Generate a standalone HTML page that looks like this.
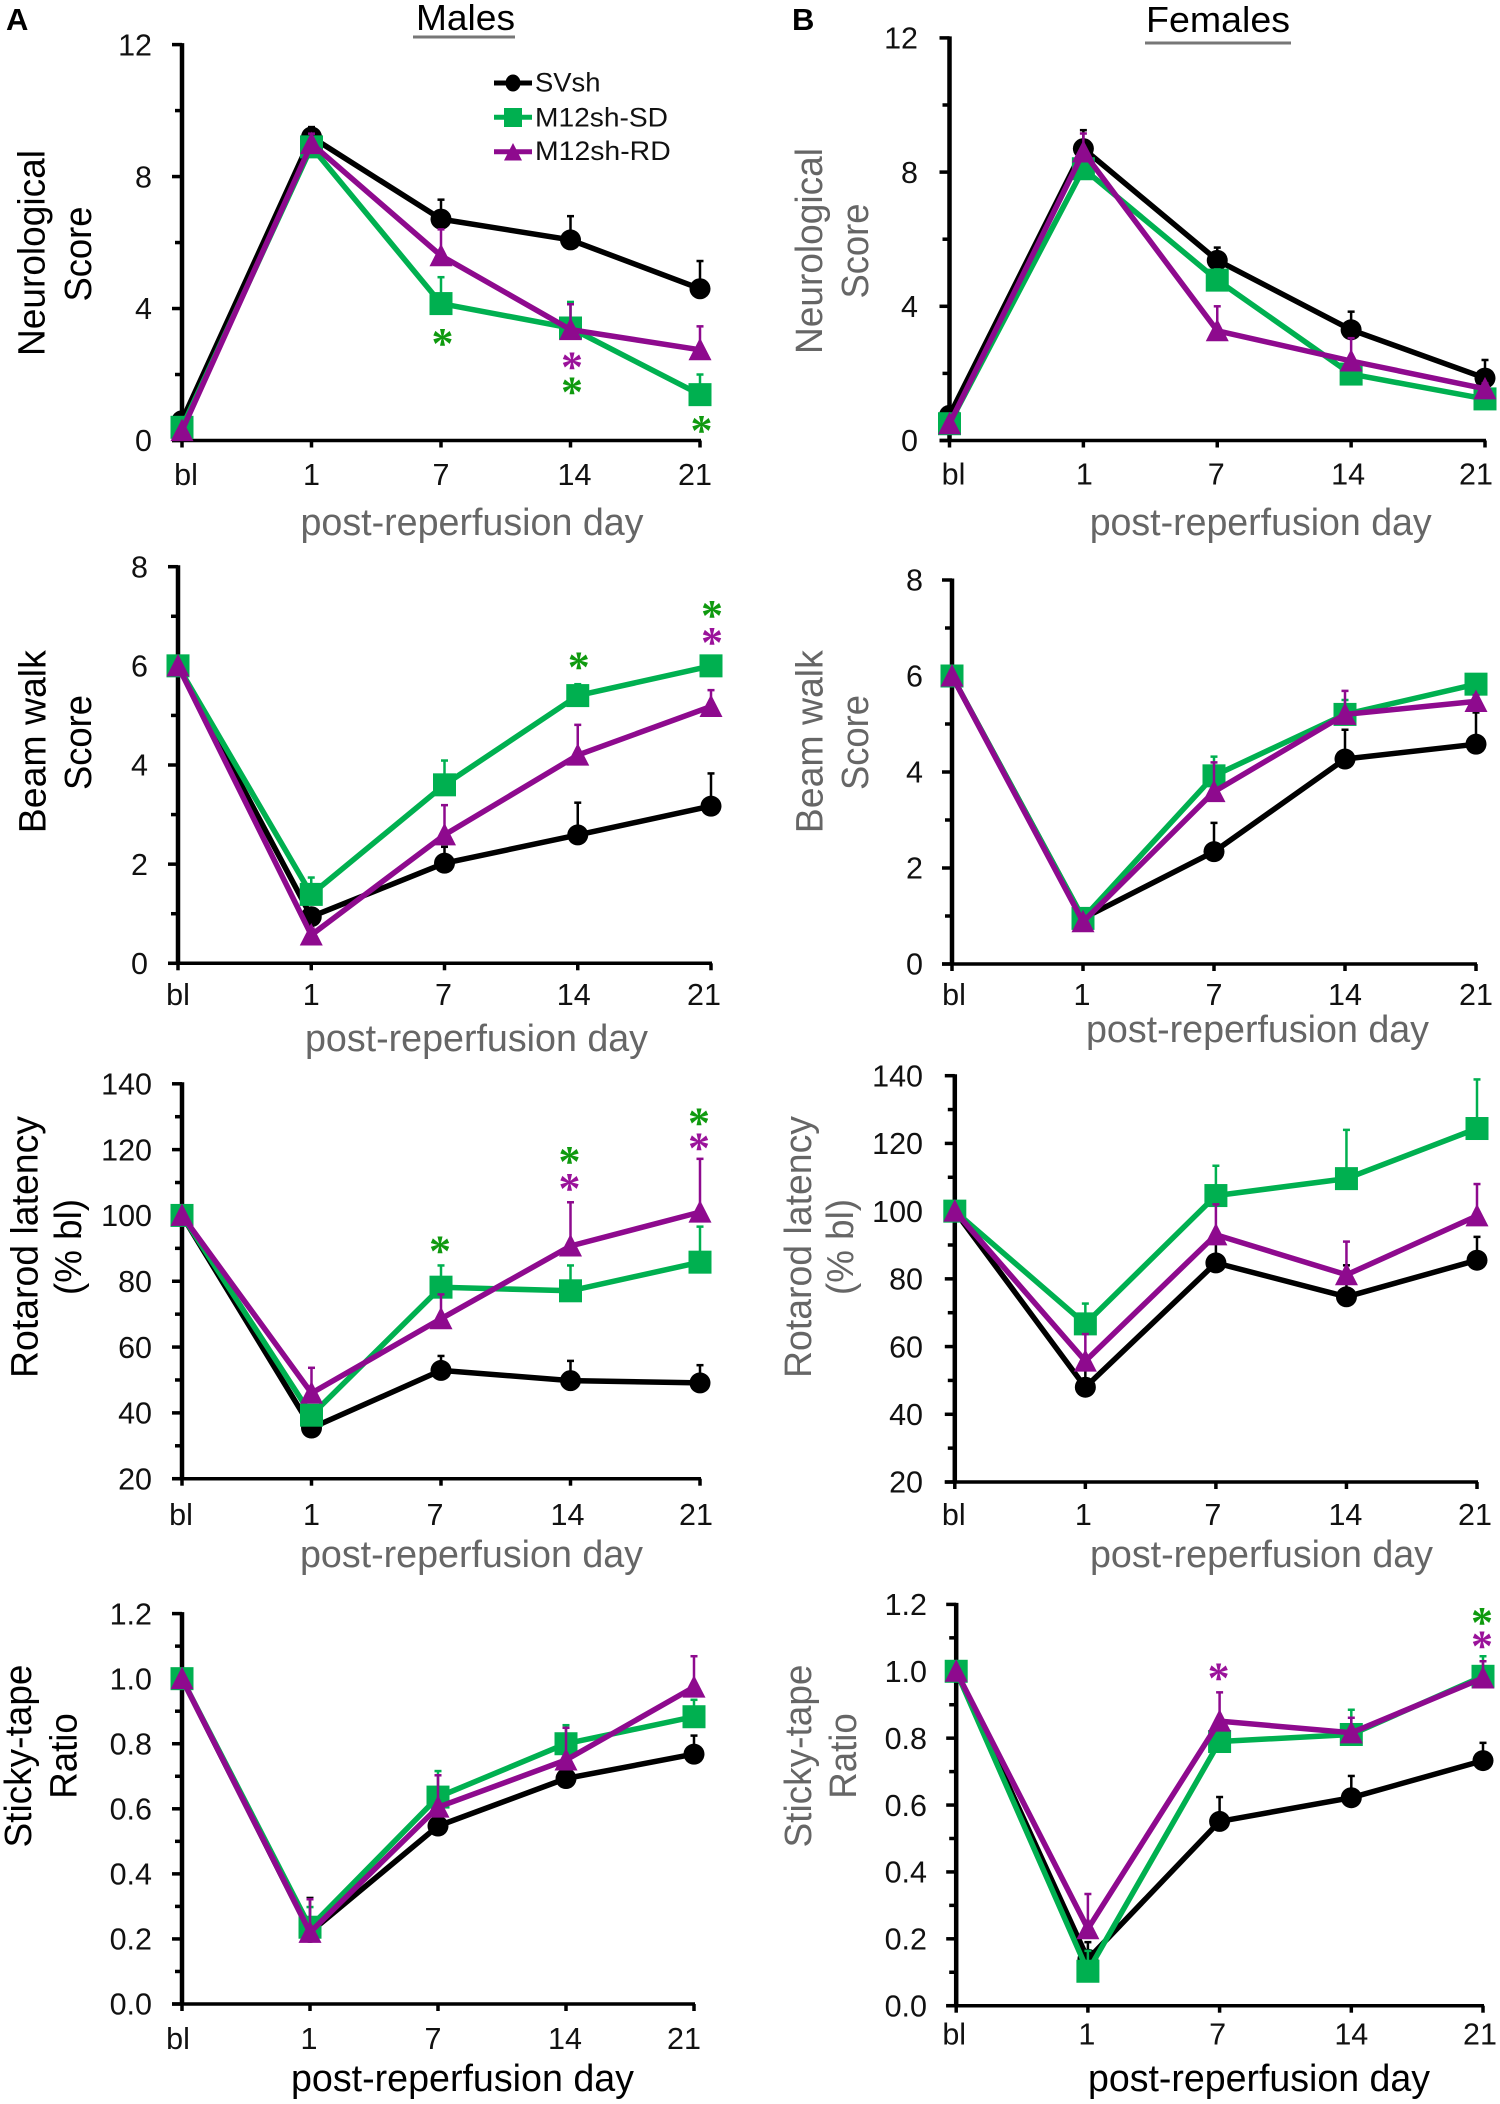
<!DOCTYPE html>
<html lang="en">
<head>
<meta charset="utf-8">
<title>Neurological and behavioural recovery, males and females</title>
<style>
html,body{margin:0;padding:0;background:#fff;}
svg{display:block;}
text{font-family:"Liberation Sans",Arial,sans-serif;}
.t{font-size:38px;fill:#000;}
.g{font-size:38px;fill:#666;}
.x{font-size:37.7px;fill:#666;}
.xk{font-size:37.7px;fill:#000;}
.lg{font-size:27px;fill:#111;}
</style>
</head>
<body>
<svg id="fig" xmlns="http://www.w3.org/2000/svg" width="1500" height="2104" viewBox="0 0 1500 2104">
  <rect width="1500" height="2104" fill="#fff"/>

  <text x="6" y="30" font-size="31" font-weight="bold">A</text>
  <text x="792" y="30" font-size="31" font-weight="bold">B</text>

  <text x="416" y="30" font-size="36" textLength="99" lengthAdjust="spacingAndGlyphs">Males</text>
  <rect x="413" y="35.5" width="102" height="3" fill="#777"/>
  <text x="1146" y="32" font-size="36.5" textLength="144" lengthAdjust="spacingAndGlyphs">Females</text>
  <rect x="1145" y="41.5" width="146" height="3" fill="#777"/>

  <!-- Row 1 -->
  <g id="a1">
    <text class="t" transform="translate(44.5,253) rotate(-90)" text-anchor="middle" textLength="206" lengthAdjust="spacingAndGlyphs">Neurological</text>
    <text class="t" transform="translate(91,254) rotate(-90)" text-anchor="middle" textLength="95" lengthAdjust="spacingAndGlyphs">Score</text>
    <text class="x" x="300.5" y="535" textLength="343" lengthAdjust="spacingAndGlyphs">post-reperfusion day</text>
  </g>
  <g id="b1">
    <text class="g" transform="translate(822,251) rotate(-90)" text-anchor="middle" textLength="206" lengthAdjust="spacingAndGlyphs">Neurological</text>
    <text class="g" transform="translate(868,251) rotate(-90)" text-anchor="middle" textLength="95" lengthAdjust="spacingAndGlyphs">Score</text>
    <text class="x" x="1089.7" y="535" textLength="342" lengthAdjust="spacingAndGlyphs">post-reperfusion day</text>
  </g>

  <!-- Row 2 -->
  <g id="a2">
    <text class="t" transform="translate(45.5,741.7) rotate(-90)" text-anchor="middle" textLength="183" lengthAdjust="spacingAndGlyphs">Beam walk</text>
    <text class="t" transform="translate(91,742.5) rotate(-90)" text-anchor="middle" textLength="95" lengthAdjust="spacingAndGlyphs">Score</text>
    <text class="x" x="305" y="1051" textLength="343" lengthAdjust="spacingAndGlyphs">post-reperfusion day</text>
  </g>
  <g id="b2">
    <text class="g" transform="translate(822.7,741.7) rotate(-90)" text-anchor="middle" textLength="183" lengthAdjust="spacingAndGlyphs">Beam walk</text>
    <text class="g" transform="translate(868,742.5) rotate(-90)" text-anchor="middle" textLength="95" lengthAdjust="spacingAndGlyphs">Score</text>
    <text class="x" x="1086" y="1042" textLength="343" lengthAdjust="spacingAndGlyphs">post-reperfusion day</text>
  </g>

  <!-- Row 3 -->
  <g id="a3">
    <text class="t" transform="translate(37.3,1247) rotate(-90)" text-anchor="middle" textLength="262" lengthAdjust="spacingAndGlyphs">Rotarod latency</text>
    <text class="t" transform="translate(81,1247) rotate(-90)" text-anchor="middle" textLength="96" lengthAdjust="spacingAndGlyphs">(% bl)</text>
    <text class="x" x="300" y="1567" textLength="343" lengthAdjust="spacingAndGlyphs">post-reperfusion day</text>
  </g>
  <g id="b3">
    <text class="g" transform="translate(811,1247) rotate(-90)" text-anchor="middle" textLength="262" lengthAdjust="spacingAndGlyphs">Rotarod latency</text>
    <text class="g" transform="translate(853,1247) rotate(-90)" text-anchor="middle" textLength="96" lengthAdjust="spacingAndGlyphs">(% bl)</text>
    <text class="x" x="1090" y="1567" textLength="343" lengthAdjust="spacingAndGlyphs">post-reperfusion day</text>
  </g>

  <!-- Row 4 -->
  <g id="a4">
    <text class="t" transform="translate(31,1756) rotate(-90)" text-anchor="middle" textLength="183" lengthAdjust="spacingAndGlyphs">Sticky-tape</text>
    <text class="t" transform="translate(76.5,1756) rotate(-90)" text-anchor="middle" textLength="85.5" lengthAdjust="spacingAndGlyphs">Ratio</text>
    <text class="xk" x="291" y="2091" textLength="343" lengthAdjust="spacingAndGlyphs">post-reperfusion day</text>
  </g>
  <g id="b4">
    <text class="g" transform="translate(811,1756) rotate(-90)" text-anchor="middle" textLength="183" lengthAdjust="spacingAndGlyphs">Sticky-tape</text>
    <text class="g" transform="translate(856,1756) rotate(-90)" text-anchor="middle" textLength="85.5" lengthAdjust="spacingAndGlyphs">Ratio</text>
    <text class="xk" x="1088" y="2091" textLength="342" lengthAdjust="spacingAndGlyphs">post-reperfusion day</text>
  </g>

  <!-- Legend -->
  <g id="legend">
    <g>
      <line x1="494" x2="532" y1="83" y2="83" stroke="#000" stroke-width="5"/>
      <ellipse cx="513" cy="83" rx="7.5" ry="8.5" fill="#000"/>
      <text class="lg" x="535" y="91.7" textLength="65.5" lengthAdjust="spacingAndGlyphs">SVsh</text>
    </g>
    <g>
      <line x1="494" x2="532" y1="117.3" y2="117.3" stroke="#00b050" stroke-width="5"/>
      <rect x="504" y="108" width="18" height="19" fill="#00b050"/>
      <text class="lg" x="535" y="126.7" textLength="133" lengthAdjust="spacingAndGlyphs">M12sh-SD</text>
    </g>
    <g>
      <line x1="494" x2="532" y1="151.7" y2="151.7" stroke="#8e0a8e" stroke-width="5"/>
      <polygon points="513,143 504,160.5 522,160.5" fill="#8e0a8e"/>
      <text class="lg" x="535" y="160" textLength="135.7" lengthAdjust="spacingAndGlyphs">M12sh-RD</text>
    </g>
  </g>
</svg>

<script>
// ---------- shared categories ----------
const categories = ['bl', '1', '7', '14', '21'];

// ---------- tick labels ----------
const neuroTicks = ['0', '4', '8', '12'];
const beamTicks = ['0', '2', '4', '6', '8'];
const rotarodTicks = ['20', '40', '60', '80', '100', '120', '140'];
const stickyTicks = ['0.0', '0.2', '0.4', '0.6', '0.8', '1.0', '1.2'];

// ---------- male neurological ----------
const a1Svsh = [0.6, 9.2, 6.71, 6.08, 4.6];
const a1SvshTop = [0.8, 9.5, 7.3, 6.8, 5.44];
const a1Sd = [0.4, 8.9, 4.15, 3.41, 1.39];
const a1SdTop = [0.4, 9.1, 4.95, 4.2, 2.0];
const a1Rd = [0.3, 9.0, 5.6, 3.36, 2.75];
const a1RdTop = [0.3, 9.3, 6.4, 4.13, 3.46];
const a1StarCats = [2, 3, 3, 4];
const a1StarVals = [3.125, 2.42, 1.65, 0.49];
const a1StarKinds = ['sd', 'rd', 'sd', 'sd'];

// ---------- female neurological ----------
const b1Svsh = [0.75, 8.7, 5.37, 3.3, 1.86];
const b1SvshTop = [0.9, 9.25, 5.75, 3.84, 2.4];
const b1Sd = [0.5, 8.1, 4.78, 1.98, 1.24];
const b1SdTop = [0.5, 8.4, 5.1, 2.2, 1.4];
const b1Rd = [0.5, 8.6, 3.27, 2.37, 1.54];
const b1RdTop = [0.5, 9.15, 4.0, 3.05, 1.7];
const b1StarCats = [];
const b1StarVals = [];
const b1StarKinds = [];

// ---------- male beam walk ----------
const a2Svsh = [6, 0.94, 2.02, 2.59, 3.17];
const a2SvshTop = [6, 1.1, 2.35, 3.24, 3.83];
const a2Sd = [6, 1.39, 3.6, 5.4, 6.0];
const a2SdTop = [6, 1.73, 4.09, 5.63, 6.0];
const a2Rd = [6, 0.57, 2.59, 4.2, 5.18];
const a2RdTop = [6, 0.7, 3.19, 4.81, 5.51];
const a2StarCats = [3, 4, 4];
const a2StarVals = [6.1, 7.14, 6.6];
const a2StarKinds = ['sd', 'sd', 'rd'];

// ---------- female beam walk ----------
const b2Svsh = [6, 0.95, 2.34, 4.27, 4.58];
const b2SvshTop = [6, 1.0, 2.94, 4.88, 5.24];
const b2Sd = [6, 0.95, 3.92, 5.2, 5.83];
const b2SdTop = [6, 1.05, 4.32, 5.5, 5.83];
const b2Rd = [6, 0.88, 3.59, 5.2, 5.47];
const b2RdTop = [6, 1.0, 4.2, 5.69, 5.6];
const b2StarCats = [];
const b2StarVals = [];
const b2StarKinds = [];

// ---------- male rotarod ----------
const a3Svsh = [100, 35.4, 52.9, 49.8, 49.1];
const a3SvshTop = [100, 37, 57.3, 55.8, 54.5];
const a3Sd = [100, 39.3, 78.2, 77.1, 85.8];
const a3SdTop = [100, 42, 84.8, 84.8, 96.6];
const a3Rd = [100, 46, 68.6, 90.7, 101];
const a3RdTop = [100, 53.7, 76, 104, 117.2];
const a3StarCats = [2, 3, 3, 4, 4];
const a3StarVals = [91, 118.2, 110, 130, 122.3];
const a3StarKinds = ['sd', 'sd', 'rd', 'sd', 'rd'];

// ---------- female rotarod ----------
const b3Svsh = [100, 48, 84.7, 74.7, 85.5];
const b3SvshTop = [100, 53, 92, 84, 92.4];
const b3Sd = [100, 66.7, 104.6, 109.6, 124.4];
const b3SdTop = [100, 72.7, 113.4, 124, 138.9];
const b3Rd = [100, 55.7, 93, 81.2, 98.6];
const b3RdTop = [100, 63.7, 102, 91, 108];
const b3StarCats = [];
const b3StarVals = [];
const b3StarKinds = [];

// ---------- male sticky tape ----------
const a4Svsh = [1.0, 0.22, 0.547, 0.693, 0.768];
const a4SvshTop = [1.0, 0.326, 0.58, 0.72, 0.825];
const a4Sd = [1.0, 0.236, 0.636, 0.8, 0.883];
const a4SdTop = [1.0, 0.298, 0.716, 0.857, 0.935];
const a4Rd = [1.0, 0.22, 0.605, 0.75, 0.974];
const a4RdTop = [1.0, 0.322, 0.703, 0.849, 1.069];
const a4StarCats = [];
const a4StarVals = [];
const a4StarKinds = [];

// ---------- female sticky tape ----------
const b4Svsh = [1.0, 0.139, 0.551, 0.622, 0.733];
const b4SvshTop = [1.0, 0.19, 0.624, 0.687, 0.786];
const b4Sd = [1.0, 0.103, 0.79, 0.811, 0.985];
const b4SdTop = [1.0, 0.164, 0.83, 0.885, 1.045];
const b4Rd = [1.0, 0.23, 0.851, 0.816, 0.98];
const b4RdTop = [1.0, 0.334, 0.937, 0.861, 1.03];
const b4StarCats = [2, 4, 4];
const b4StarVals = [0.998, 1.165, 1.094];
const b4StarKinds = ['rd', 'sd', 'rd'];

// ---------- panel wiring + frame layout ----------
const panels = [
  { id: 'a1', ticks: neuroTicks, s: [a1Svsh, a1Sd, a1Rd], e: [a1SvshTop, a1SdTop, a1RdTop], sc: a1StarCats, sv: a1StarVals, sk: a1StarKinds,
    frame: { x0: 182, x1: 700, top: 44.6, bottom: 440.5, labelRight: 152, labelBase: 485, dx: [4, 0, 0, 4, -5], star: 1.5 } },
  { id: 'b1', ticks: neuroTicks, s: [b1Svsh, b1Sd, b1Rd], e: [b1SvshTop, b1SdTop, b1RdTop], sc: b1StarCats, sv: b1StarVals, sk: b1StarKinds,
    frame: { x0: 949.5, x1: 1485, top: 37.9, bottom: 440.5, labelRight: 918, labelBase: 484.5, dx: [4, 1, -1, -3, -9], star: 0 } },
  { id: 'a2', ticks: beamTicks, s: [a2Svsh, a2Sd, a2Rd], e: [a2SvshTop, a2SdTop, a2RdTop], sc: a2StarCats, sv: a2StarVals, sk: a2StarKinds,
    frame: { x0: 178, x1: 711, top: 566.7, bottom: 963.3, labelRight: 148, labelBase: 1005, dx: [0, 0, -1, -4, -7], star: 1 } },
  { id: 'b2', ticks: beamTicks, s: [b2Svsh, b2Sd, b2Rd], e: [b2SvshTop, b2SdTop, b2RdTop], sc: b2StarCats, sv: b2StarVals, sk: b2StarKinds,
    frame: { x0: 952, x1: 1476, top: 580, bottom: 964, labelRight: 923, labelBase: 1005, dx: [2, -1, 0, 0, 0], star: 0 } },
  { id: 'a3', ticks: rotarodTicks, s: [a3Svsh, a3Sd, a3Rd], e: [a3SvshTop, a3SdTop, a3RdTop], sc: a3StarCats, sv: a3StarVals, sk: a3StarKinds,
    frame: { x0: 182, x1: 700, top: 1083.8, bottom: 1478.7, labelRight: 152, labelBase: 1525, dx: [-1, 0, -6, -3, -4], star: -1 } },
  { id: 'b3', ticks: rotarodTicks, s: [b3Svsh, b3Sd, b3Rd], e: [b3SvshTop, b3SdTop, b3RdTop], sc: b3StarCats, sv: b3StarVals, sk: b3StarKinds,
    frame: { x0: 954.8, x1: 1477, top: 1075.7, bottom: 1482, labelRight: 923, labelBase: 1525, dx: [-1, -2, -3, -1, -2], star: 0 } },
  { id: 'a4', ticks: stickyTicks, s: [a4Svsh, a4Sd, a4Rd], e: [a4SvshTop, a4SdTop, a4RdTop], sc: a4StarCats, sv: a4StarVals, sk: a4StarKinds,
    frame: { x0: 182, x1: 694, top: 1613.6, bottom: 2004, labelRight: 152, labelBase: 2049, dx: [-4, -1, -5, -1, -10], star: 0 } },
  { id: 'b4', ticks: stickyTicks, s: [b4Svsh, b4Sd, b4Rd], e: [b4SvshTop, b4SdTop, b4RdTop], sc: b4StarCats, sv: b4StarVals, sk: b4StarKinds,
    frame: { x0: 956.2, x1: 1483, top: 1604.4, bottom: 2005.7, labelRight: 927, labelBase: 2044.6, dx: [-2, -1, -2, 0, -3], star: -1 } }
];

const seriesColor = ['#000000', '#00b050', '#8e0a8e'];
const starColor = { sd: '#0f9a0f', rd: '#9a129a' };
const NS = 'http://www.w3.org/2000/svg';

function make(tag, attrs, parent) {
  const node = document.createElementNS(NS, tag);
  Object.keys(attrs).forEach(function (k) { node.setAttribute(k, attrs[k]); });
  parent.appendChild(node);
  return node;
}

panels.forEach(function (p) {
  const root = document.getElementById(p.id);
  const f = p.frame;
  const lo = parseFloat(p.ticks[0]);
  const hi = parseFloat(p.ticks[p.ticks.length - 1]);
  const xScale = function (i) { return f.x0 + i * (f.x1 - f.x0) / (categories.length - 1); };
  const yScale = function (v) { return f.bottom - (v - lo) / (hi - lo) * (f.bottom - f.top); };

  // y axis
  const yAxis = make('line', { x1: f.x0, x2: f.x0, y1: f.top - 1.5, y2: f.bottom + 1.5, stroke: '#000', 'stroke-width': 4.5 }, root);
  
  

  p.ticks.forEach(function (label, i) {
    const v = parseFloat(label);
    const y = yScale(v);
    const tick = make('line', { x1: f.x0 - 10, x2: f.x0, y1: y, y2: y, stroke: '#000', 'stroke-width': 3.5 }, root);
    
    

    const text = make('text', { x: f.labelRight, y: y + 10.7, 'text-anchor': 'end', 'font-size': 30.5, fill: '#111' }, root);
    
    
    text.textContent = label;

    if (i < p.ticks.length - 1) {
      const mid = yScale((v + parseFloat(p.ticks[i + 1])) / 2);
      const minor = make('line', { x1: f.x0 - 7, x2: f.x0, y1: mid, y2: mid, stroke: '#000', 'stroke-width': 3.5 }, root);
      
      
    }
  });

  // x axis
  const xAxis = make('line', { x1: f.x0 - 10, x2: f.x1 + 1, y1: f.bottom, y2: f.bottom, stroke: '#000', 'stroke-width': 3.5 }, root);
  
  

  categories.forEach(function (c, i) {
    const x = xScale(i);
    const tick = make('line', { x1: x, x2: x, y1: f.bottom, y2: f.bottom + 7, stroke: '#000', 'stroke-width': 3.5 }, root);
    
    

    const text = make('text', { x: x + f.dx[i], y: f.labelBase, 'text-anchor': 'middle', 'font-size': 30.5, fill: '#111' }, root);
    
    
    text.textContent = c;
  });

  // series
  p.s.forEach(function (vals, sIdx) {
    const color = seriesColor[sIdx];
    const tops = p.e[sIdx];

    vals.forEach(function (v, i) {
      if (tops[i] <= v) { return; }
      const x = xScale(i);
      const stem = make('line', { x1: x, x2: x, y1: yScale(v), y2: yScale(tops[i]), stroke: color, 'stroke-width': 2.5 }, root);
      
      
      const cap = make('line', { x1: x - 3.5, x2: x + 3.5, y1: yScale(tops[i]), y2: yScale(tops[i]), stroke: color, 'stroke-width': 2.5 }, root);
      
      
    });

    const pts = vals.map(function (v, i) { return xScale(i).toFixed(1) + ',' + yScale(v).toFixed(1); }).join(' ');
    const line = make('polyline', { points: pts, fill: 'none', stroke: color, 'stroke-width': 5.5, 'stroke-linejoin': 'round' }, root);
    
    

    vals.forEach(function (v, i) {
      const x = xScale(i);
      const y = yScale(v);
      let mark;
      if (sIdx === 0) {
        mark = make('ellipse', { cx: x, cy: y, rx: 10.5, ry: 10.5, fill: color }, root);
      } else if (sIdx === 1) {
        mark = make('rect', { x: x - 11.5, y: y - 11.5, width: 23, height: 23, fill: color }, root);
      } else {
        mark = make('polygon', { points: x + ',' + (y - 12) + ' ' + (x - 11.5) + ',' + (y + 10.5) + ' ' + (x + 11.5) + ',' + (y + 10.5), fill: color }, root);
      }
      
      
    });
  });

  // significance stars
  p.sv.forEach(function (v, i) {
    const size = 44;
    const star = make('text', { x: xScale(p.sc[i]) + f.star, y: yScale(v) + size * 0.47, 'text-anchor': 'middle', 'font-size': size, 'font-weight': 'bold', fill: starColor[p.sk[i]], style: 'font-family:"Liberation Serif",serif' }, root);
    
    
    star.textContent = '*';
  });
});
</script>
</body>
</html>
